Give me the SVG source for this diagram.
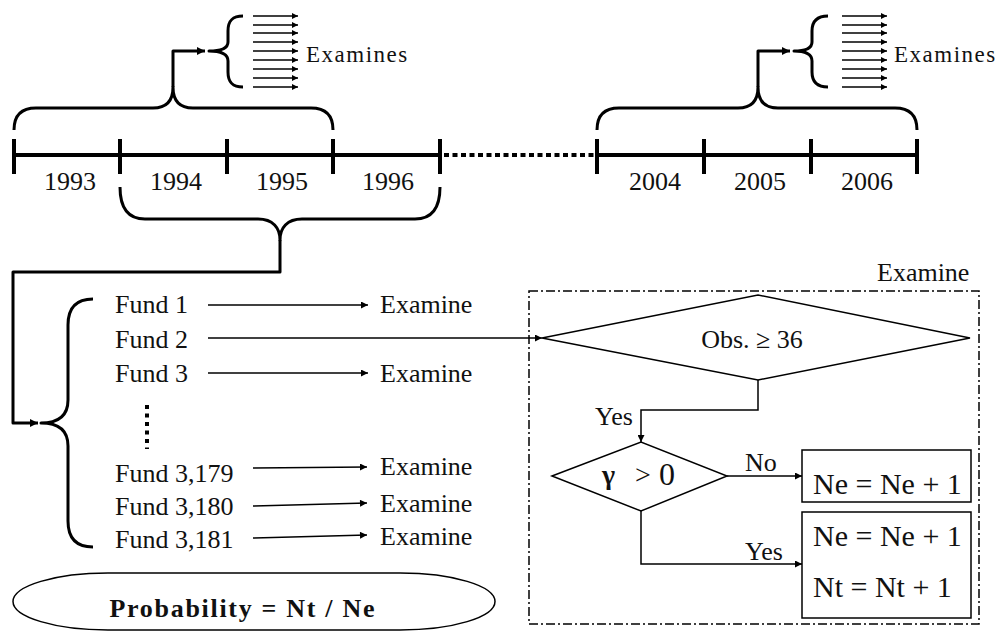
<svg xmlns="http://www.w3.org/2000/svg" width="1002" height="632" viewBox="0 0 1002 632">
  <style>
    text { font-family: "Liberation Serif", "Times New Roman", serif; fill: #111; }
    .lbl { font-size: 26px; }
    .yr { font-size: 26px; text-anchor: middle; }
    .ex { font-size: 23px; letter-spacing: 1.5px; }
    .big { font-size: 30px; }
    .thick { fill: none; stroke: #000; stroke-width: 4; }
    .brace { fill: none; stroke: #000; stroke-width: 3; stroke-linejoin: round; }
    .thin { fill: none; stroke: #000; stroke-width: 1.5; }
    .shape { fill: #fff; stroke: #000; stroke-width: 1.5; }
  </style>
  <defs>
    <marker id="ah" viewBox="0 0 10 10" refX="10" refY="5" markerUnits="userSpaceOnUse" markerWidth="9" markerHeight="7" orient="auto">
      <path d="M0,0 L10,5 L0,10 z" fill="#000"/>
    </marker>
    <marker id="ahs" viewBox="0 0 10 10" refX="10" refY="5" markerUnits="userSpaceOnUse" markerWidth="7" markerHeight="6" orient="auto">
      <path d="M0,0 L10,5 L0,10 z" fill="#000"/>
    </marker>
    <marker id="ahb" viewBox="0 0 10 10" refX="10" refY="5" markerUnits="userSpaceOnUse" markerWidth="11" markerHeight="8" orient="auto">
      <path d="M0,0 L10,5 L0,10 z" fill="#000"/>
    </marker>
    <!-- fan of nine short arrows -->
    <g id="fan" class="thin">
      <line x1="0" y1="16" x2="45" y2="16" marker-end="url(#ahs)"/>
      <line x1="0" y1="25" x2="45" y2="25" marker-end="url(#ahs)"/>
      <line x1="0" y1="33" x2="45" y2="33" marker-end="url(#ahs)"/>
      <line x1="0" y1="42" x2="45" y2="42" marker-end="url(#ahs)"/>
      <line x1="0" y1="51" x2="45" y2="51" marker-end="url(#ahs)"/>
      <line x1="0" y1="60" x2="45" y2="60" marker-end="url(#ahs)"/>
      <line x1="0" y1="69" x2="45" y2="69" marker-end="url(#ahs)"/>
      <line x1="0" y1="78" x2="45" y2="78" marker-end="url(#ahs)"/>
      <line x1="0" y1="87" x2="45" y2="87" marker-end="url(#ahs)"/>
    </g>
  </defs>

  <!-- timeline -->
  <g id="timeline">
    <line class="thick" x1="14" y1="155" x2="440" y2="155"/>
    <line x1="444" y1="155" x2="597" y2="155" stroke="#000" stroke-width="4" stroke-dasharray="5 3.5"/>
    <line class="thick" x1="597" y1="155" x2="917" y2="155"/>
    <g class="thick">
      <line x1="14" y1="139" x2="14" y2="174"/>
      <line x1="120" y1="139" x2="120" y2="174"/>
      <line x1="227" y1="139" x2="227" y2="174"/>
      <line x1="333" y1="139" x2="333" y2="174"/>
      <line x1="440" y1="139" x2="440" y2="174"/>
      <line x1="597" y1="139" x2="597" y2="174"/>
      <line x1="704" y1="139" x2="704" y2="174"/>
      <line x1="811" y1="139" x2="811" y2="174"/>
      <line x1="917" y1="139" x2="917" y2="174"/>
    </g>
    <text class="yr" x="70" y="190">1993</text>
    <text class="yr" x="176" y="190">1994</text>
    <text class="yr" x="282" y="190">1995</text>
    <text class="yr" x="388" y="190">1996</text>
    <text class="yr" x="655" y="190">2004</text>
    <text class="yr" x="760" y="190">2005</text>
    <text class="yr" x="867" y="190">2006</text>
  </g>

  <!-- early window: 1993-1995 -->
  <g id="window-early">
    <path class="brace" d="M14,130 C14,116 21,108 36,108 L153,108 C167,108 173,100 173,87 C173,100 179,108 193,108 L311,108 C326,108 333,116 333,130"/>
    <path class="brace" d="M173,87 L173,51 L205,51" marker-end="url(#ahb)"/>
    <path class="brace" d="M243,16 C232,16 228,21 228,31 L228,42 C228,48 222,51 209,51 C222,51 228,54 228,61 L228,72 C228,82 232,87 243,87"/>
    <use href="#fan" x="253"/>
    <text class="ex" x="306" y="62">Examines</text>
  </g>

  <!-- late window: 2004-2006 -->
  <g id="window-late">
    <path class="brace" d="M597,130 C597,116 604,108 619,108 L738,108 C752,108 758,100 758,87 C758,100 764,108 778,108 L895,108 C910,108 917,116 917,130"/>
    <path class="brace" d="M758,87 L758,51 L790,51" marker-end="url(#ahb)"/>
    <path class="brace" d="M828,16 C817,16 812,21 812,31 L812,42 C812,48 806,51 794,51 C806,51 812,54 812,61 L812,72 C812,82 817,87 828,87"/>
    <use href="#fan" x="842"/>
    <text class="ex" x="894" y="62">Examines</text>
  </g>

  <!-- window 1994-1996 feeding the fund list -->
  <g id="window-funds">
    <path class="brace" d="M120,187 C120,208 128,219 145,219 L258,219 C273,219 280,228 280,240 C280,228 287,219 302,219 L415,219 C432,219 440,208 440,187"/>
  </g>

  <!-- connectors -->
  <g id="connectors">
    <path class="brace" d="M280,240 L280,272 L13,272 L13,423 L38,423" marker-end="url(#ahb)"/>
    <line class="thin" x1="208" y1="305" x2="368" y2="305" marker-end="url(#ah)"/>
    <line class="thin" x1="208" y1="338" x2="542" y2="338" marker-end="url(#ah)"/>
    <line class="thin" x1="208" y1="373" x2="368" y2="373" marker-end="url(#ah)"/>
    <line class="thin" x1="253" y1="468" x2="367" y2="467" marker-end="url(#ah)"/>
    <line class="thin" x1="253" y1="506" x2="367" y2="503" marker-end="url(#ah)"/>
    <line class="thin" x1="253" y1="538" x2="367" y2="535" marker-end="url(#ah)"/>
    <path class="thin" d="M758,380 L758,410 L641,410 L641,442" marker-end="url(#ah)"/>
    <line class="thin" x1="727" y1="476" x2="802" y2="476" marker-end="url(#ah)"/>
    <path class="thin" d="M641,511 L641,564 L802,564" marker-end="url(#ah)"/>
  </g>

  <!-- fund list -->
  <g id="funds">
    <path class="brace" d="M93,299 C76,299 68,308 68,325 L68,400 C68,416 58,423 41,423 C58,423 68,430 68,446 L68,521 C68,538 76,547 93,547"/>
    <text class="lbl" x="115" y="313">Fund 1</text>
    <text class="lbl" x="115" y="348">Fund 2</text>
    <text class="lbl" x="115" y="382">Fund 3</text>
    <line x1="147" y1="405" x2="147" y2="449" stroke="#000" stroke-width="4" stroke-dasharray="4 4.5"/>
    <text class="lbl" x="115" y="482">Fund 3,179</text>
    <text class="lbl" x="115" y="515">Fund 3,180</text>
    <text class="lbl" x="115" y="548">Fund 3,181</text>
    <text class="lbl" x="380" y="313">Examine</text>
    <text class="lbl" x="380" y="382">Examine</text>
    <text class="lbl" x="380" y="475">Examine</text>
    <text class="lbl" x="380" y="512">Examine</text>
    <text class="lbl" x="380" y="545">Examine</text>
  </g>

  <!-- result -->
  <g id="probability">
    <rect x="13" y="573" width="482" height="57" rx="95" ry="28.5" class="shape"/>
    <text x="242" y="617" font-size="26" font-weight="bold" text-anchor="middle" textLength="265" lengthAdjust="spacing">Probability = Nt / Ne</text>
  </g>

  <!-- examine procedure -->
  <g id="examine">
    <rect x="529" y="291" width="450" height="333" fill="none" stroke="#000" stroke-width="1.5" stroke-dasharray="9 3 2 3"/>
    <text class="lbl" x="877" y="281">Examine</text>
  </g>

  <g id="obs-check">
    <polygon class="shape" points="542,338 758,295 970,338 758,380"/>
    <text x="752" y="348" font-size="26" text-anchor="middle">Obs. ≥ 36</text>
  </g>
  <text class="lbl" x="595" y="425">Yes</text>

  <g id="gamma-check">
    <polygon class="shape" points="552,476 641,442 727,476 641,511"/>
    <text x="602" y="484" font-size="28" font-weight="bold">γ</text>
    <text x="635" y="484" font-size="28">&gt;</text>
    <text x="659" y="485" font-size="32" font-family="Liberation Sans, sans-serif" font-weight="300">0</text>
  </g>
  <text class="lbl" x="745" y="471">No</text>
  <text class="lbl" x="745" y="560">Yes</text>

  <g id="count-exam">
    <rect class="shape" x="802" y="450" width="169" height="52"/>
    <text class="big" x="813" y="494">Ne = Ne + 1</text>
  </g>
  <g id="count-both">
    <rect class="shape" x="802" y="512" width="169" height="106"/>
    <text class="big" x="813" y="546">Ne = Ne + 1</text>
    <text class="big" x="813" y="597">Nt = Nt + 1</text>
  </g>
</svg>
